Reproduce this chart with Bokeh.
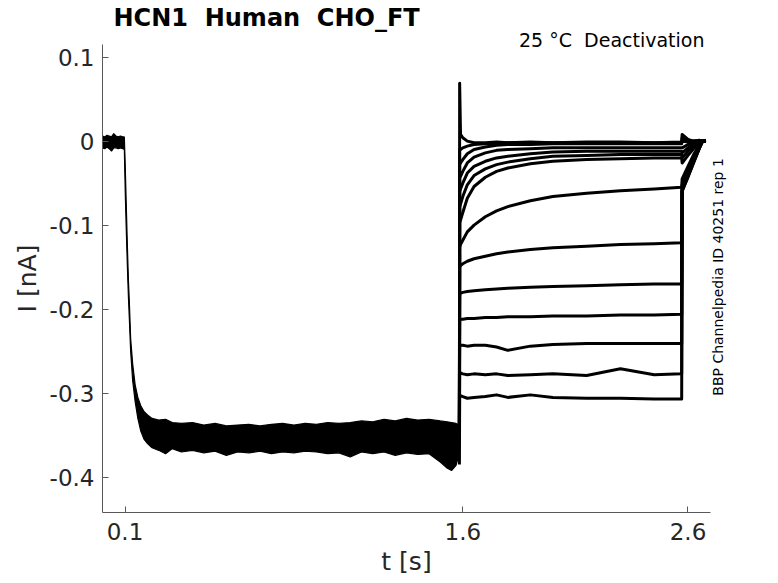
import math
from bokeh.plotting import figure
from bokeh.models import Range1d, FixedTicker, Title, LinearAxis
from bokeh.embed import file_html
from bokeh.resources import INLINE

# ---------------- data ----------------
NB = "\u00a0"  # keeps the double spaces of the original texts visible in SVG
title_text = "HCN1 " + NB + "Human " + NB + "CHO_FT"
condition_text = "25 °C " + NB + "Deactivation"
source_text = "BBP Channelpedia ID 40251 rep 1"
x_label = "t [s]"
y_label = "I [nA]"

x_ticks = [0.1, 1.6, 2.6]
x_tick_labels = ["0.1", "1.6", "2.6"]
y_ticks = [-0.4, -0.3, -0.2, -0.1, 0.0, 0.1]
y_tick_labels = ["-0.4", "-0.3", "-0.2", "-0.1", "0", "0.1"]
source_anchor = -0.303   # where the rotated note starts (its lower end)

# activation phase (all sweeps overlaid): upper / lower envelope of the noisy band
t_act = [0.0, 0.01, 0.02, 0.03, 0.04, 0.05, 0.06, 0.07, 0.08, 0.09, 0.097,
         0.101, 0.105, 0.110, 0.115, 0.119, 0.125, 0.134, 0.145, 0.157, 0.170,
         0.185, 0.20, 0.22, 0.25, 0.28, 0.31, 0.35, 0.40, 0.45, 0.50, 0.55,
         0.60, 0.65, 0.70, 0.75, 0.80, 0.85, 0.90, 0.95, 1.00, 1.05, 1.10,
         1.15, 1.20, 1.25, 1.30, 1.35, 1.40, 1.45, 1.50, 1.53, 1.55, 1.57, 1.584]
i_act_upper = [0.006, 0.005, 0.007, 0.006, 0.005, 0.009, 0.006, 0.005, 0.006, 0.005, 0.005,
               -0.030, -0.070, -0.120, -0.165, -0.190, -0.235, -0.265, -0.290, -0.305, -0.315,
               -0.322, -0.326, -0.330, -0.332, -0.331, -0.335, -0.336, -0.335, -0.338, -0.336, -0.339,
               -0.338, -0.337, -0.339, -0.337, -0.336, -0.338, -0.336, -0.337, -0.335, -0.336, -0.335,
               -0.333, -0.334, -0.331, -0.333, -0.330, -0.332, -0.331, -0.333, -0.334, -0.335, -0.336, -0.338]
i_act_lower = [-0.008, -0.009, -0.007, -0.009, -0.012, -0.008, -0.008, -0.009, -0.008, -0.009, -0.010,
               -0.060, -0.100, -0.145, -0.185, -0.210, -0.250, -0.285, -0.310, -0.330, -0.345,
               -0.355, -0.360, -0.365, -0.368, -0.372, -0.366, -0.370, -0.368, -0.371, -0.369, -0.374,
               -0.370, -0.371, -0.369, -0.372, -0.370, -0.371, -0.369, -0.370, -0.372, -0.371, -0.376,
               -0.370, -0.372, -0.370, -0.374, -0.371, -0.373, -0.372, -0.382, -0.389, -0.392, -0.386, -0.372]

# deactivation (tail) sweeps, sampled at common times
t_tail = [1.585, 1.586, 1.59, 1.60, 1.62, 1.65, 1.70, 1.75, 1.80, 1.90, 2.00,
          2.15, 2.30, 2.45, 2.572, 2.574, 2.60, 2.625, 2.65, 2.665, 2.68]
sweep_01 = [-0.360, 0.069, 0.008, 0.004, 0.000, -0.002, -0.002, -0.001, -0.002, -0.001, -0.002,
            -0.001, -0.001, -0.002, -0.001, 0.008, 0.002, 0.000, 0.001, 0.000, 0.001]
sweep_02 = [-0.360, -0.010, -0.010, -0.008, -0.006, -0.004, -0.003, -0.003, -0.002, -0.002, -0.002,
            -0.002, -0.002, -0.002, -0.002, 0.004, 0.001, 0.000, 0.000, 0.000, 0.000]
sweep_03 = [-0.360, -0.028, -0.026, -0.022, -0.015, -0.010, -0.007, -0.005, -0.004, -0.004, -0.003,
            -0.003, -0.003, -0.003, -0.003, 0.000, -0.001, 0.000, 0.000, 0.000, 0.000]
sweep_04 = [-0.360, -0.044, -0.042, -0.036, -0.026, -0.019, -0.014, -0.011, -0.010, -0.009, -0.008,
            -0.008, -0.008, -0.008, -0.008, -0.008, -0.004, -0.002, 0.000, 0.000, 0.000]
sweep_05 = [-0.360, -0.060, -0.057, -0.050, -0.038, -0.030, -0.024, -0.020, -0.018, -0.015, -0.013,
            -0.012, -0.012, -0.012, -0.012, -0.014, -0.008, -0.004, -0.001, 0.000, 0.000]
sweep_06 = [-0.360, -0.078, -0.075, -0.066, -0.052, -0.041, -0.033, -0.028, -0.025, -0.021, -0.018,
            -0.017, -0.016, -0.016, -0.016, -0.020, -0.012, -0.006, -0.002, 0.000, 0.000]
sweep_07 = [-0.360, -0.097, -0.094, -0.085, -0.068, -0.054, -0.043, -0.036, -0.032, -0.027, -0.024,
            -0.022, -0.021, -0.020, -0.020, -0.026, -0.017, -0.009, -0.003, 0.000, 0.000]
sweep_08 = [-0.360, -0.126, -0.123, -0.118, -0.108, -0.100, -0.090, -0.083, -0.078, -0.071, -0.066,
            -0.062, -0.059, -0.057, -0.055, -0.045, -0.030, -0.016, -0.005, 0.000, 0.000]
sweep_09 = [-0.360, -0.150, -0.148, -0.146, -0.143, -0.140, -0.137, -0.134, -0.132, -0.129, -0.127,
            -0.125, -0.123, -0.122, -0.121, -0.052, -0.035, -0.019, -0.006, 0.000, 0.000]
sweep_10 = [-0.360, -0.183, -0.181, -0.180, -0.179, -0.178, -0.177, -0.176, -0.175, -0.174, -0.173,
            -0.172, -0.171, -0.170, -0.170, -0.055, -0.038, -0.021, -0.007, 0.000, 0.000]
sweep_11 = [-0.360, -0.214, -0.212, -0.212, -0.211, -0.211, -0.210, -0.210, -0.209, -0.209, -0.208,
            -0.208, -0.207, -0.207, -0.206, -0.057, -0.040, -0.023, -0.008, 0.000, 0.000]
sweep_12 = [-0.360, -0.245, -0.243, -0.243, -0.244, -0.243, -0.243, -0.245, -0.249, -0.244, -0.242,
            -0.241, -0.241, -0.241, -0.241, -0.058, -0.041, -0.024, -0.008, 0.000, 0.000]
sweep_13 = [-0.360, -0.278, -0.276, -0.277, -0.278, -0.277, -0.278, -0.277, -0.279, -0.278, -0.277,
            -0.279, -0.271, -0.278, -0.277, -0.059, -0.042, -0.025, -0.009, 0.000, 0.000]
sweep_14 = [-0.385, -0.305, -0.303, -0.304, -0.306, -0.305, -0.304, -0.302, -0.305, -0.302, -0.305,
            -0.306, -0.306, -0.307, -0.307, -0.060, -0.043, -0.026, -0.009, 0.000, 0.000]
sweeps = [sweep_01, sweep_02, sweep_03, sweep_04, sweep_05, sweep_06, sweep_07,
          sweep_08, sweep_09, sweep_10, sweep_11, sweep_12, sweep_13, sweep_14]

# ---------------- figure ----------------
FONT = "DejaVu Sans"
TXT = "#262626"

p = figure(width=778, height=583, output_backend="svg", toolbar_location=None,
           x_range=Range1d(0.0, 2.7), y_range=Range1d(-0.442, 0.115),
           min_border_left=102, min_border_right=68, min_border_top=43, min_border_bottom=71)
p.outline_line_color = None
p.grid.visible = False
p.background_fill_color = "white"
p.border_fill_color = "white"

# activation band
p.varea(x=t_act, y1=i_act_upper, y2=i_act_lower, fill_color="black")
p.line(x=t_act, y=i_act_upper, line_color="black", line_width=1.2)
p.line(x=t_act, y=i_act_lower, line_color="black", line_width=1.2)

# tail sweeps
for s in sweeps:
    p.line(x=t_tail, y=s, line_color="black", line_width=3, line_join="round")

# axes styling
for ax in (p.xaxis[0], p.yaxis[0]):
    ax.axis_line_color = "#595959"
    ax.axis_line_width = 1
    ax.major_tick_line_color = "#595959"
    ax.major_tick_in = 6
    ax.major_tick_out = 0
    ax.minor_tick_line_color = None
    ax.major_label_text_font = FONT
    ax.major_label_text_font_size = "23px"
    ax.major_label_text_color = TXT
    ax.axis_label_text_font = FONT
    ax.axis_label_text_font_size = "25px"
    ax.axis_label_text_font_style = "normal"
    ax.axis_label_text_color = TXT

p.xaxis.ticker = FixedTicker(ticks=x_ticks)
p.xaxis.major_label_overrides = dict(zip(x_ticks, x_tick_labels))
p.yaxis.ticker = FixedTicker(ticks=y_ticks)
p.yaxis.major_label_overrides = dict(zip(y_ticks, y_tick_labels))
p.xaxis.axis_label = x_label
p.yaxis.axis_label = y_label
p.xaxis.major_label_standoff = 10
p.xaxis.axis_label_standoff = 4
p.yaxis.major_label_standoff = 8
p.yaxis.axis_label_standoff = 5

# right side: rotated source note (as a bare tick label of an invisible axis)
src_axis = LinearAxis(ticker=FixedTicker(ticks=[source_anchor]),
                      major_label_overrides={source_anchor: source_text},
                      major_label_orientation=math.pi / 2,
                      major_label_standoff=2,
                      major_label_text_font=FONT, major_label_text_font_size="14px",
                      major_label_text_color="black",
                      axis_line_color=None, major_tick_line_color=None,
                      minor_tick_line_color=None)
p.add_layout(src_axis, "right")

# titles above the frame
cond = Title(text=condition_text, align="right", offset=6, standoff=-13,
             text_font=FONT, text_font_size="19px", text_font_style="normal",
             text_color="black")
p.add_layout(cond, "above")
p.title.text = title_text
p.title.align = "left"
p.title.offset = 11
p.title.standoff = 3
p.title.text_font = FONT
p.title.text_font_size = "24px"
p.title.text_font_style = "bold"
p.title.text_color = "black"

open("out.html", "w").write(file_html(p, INLINE))
